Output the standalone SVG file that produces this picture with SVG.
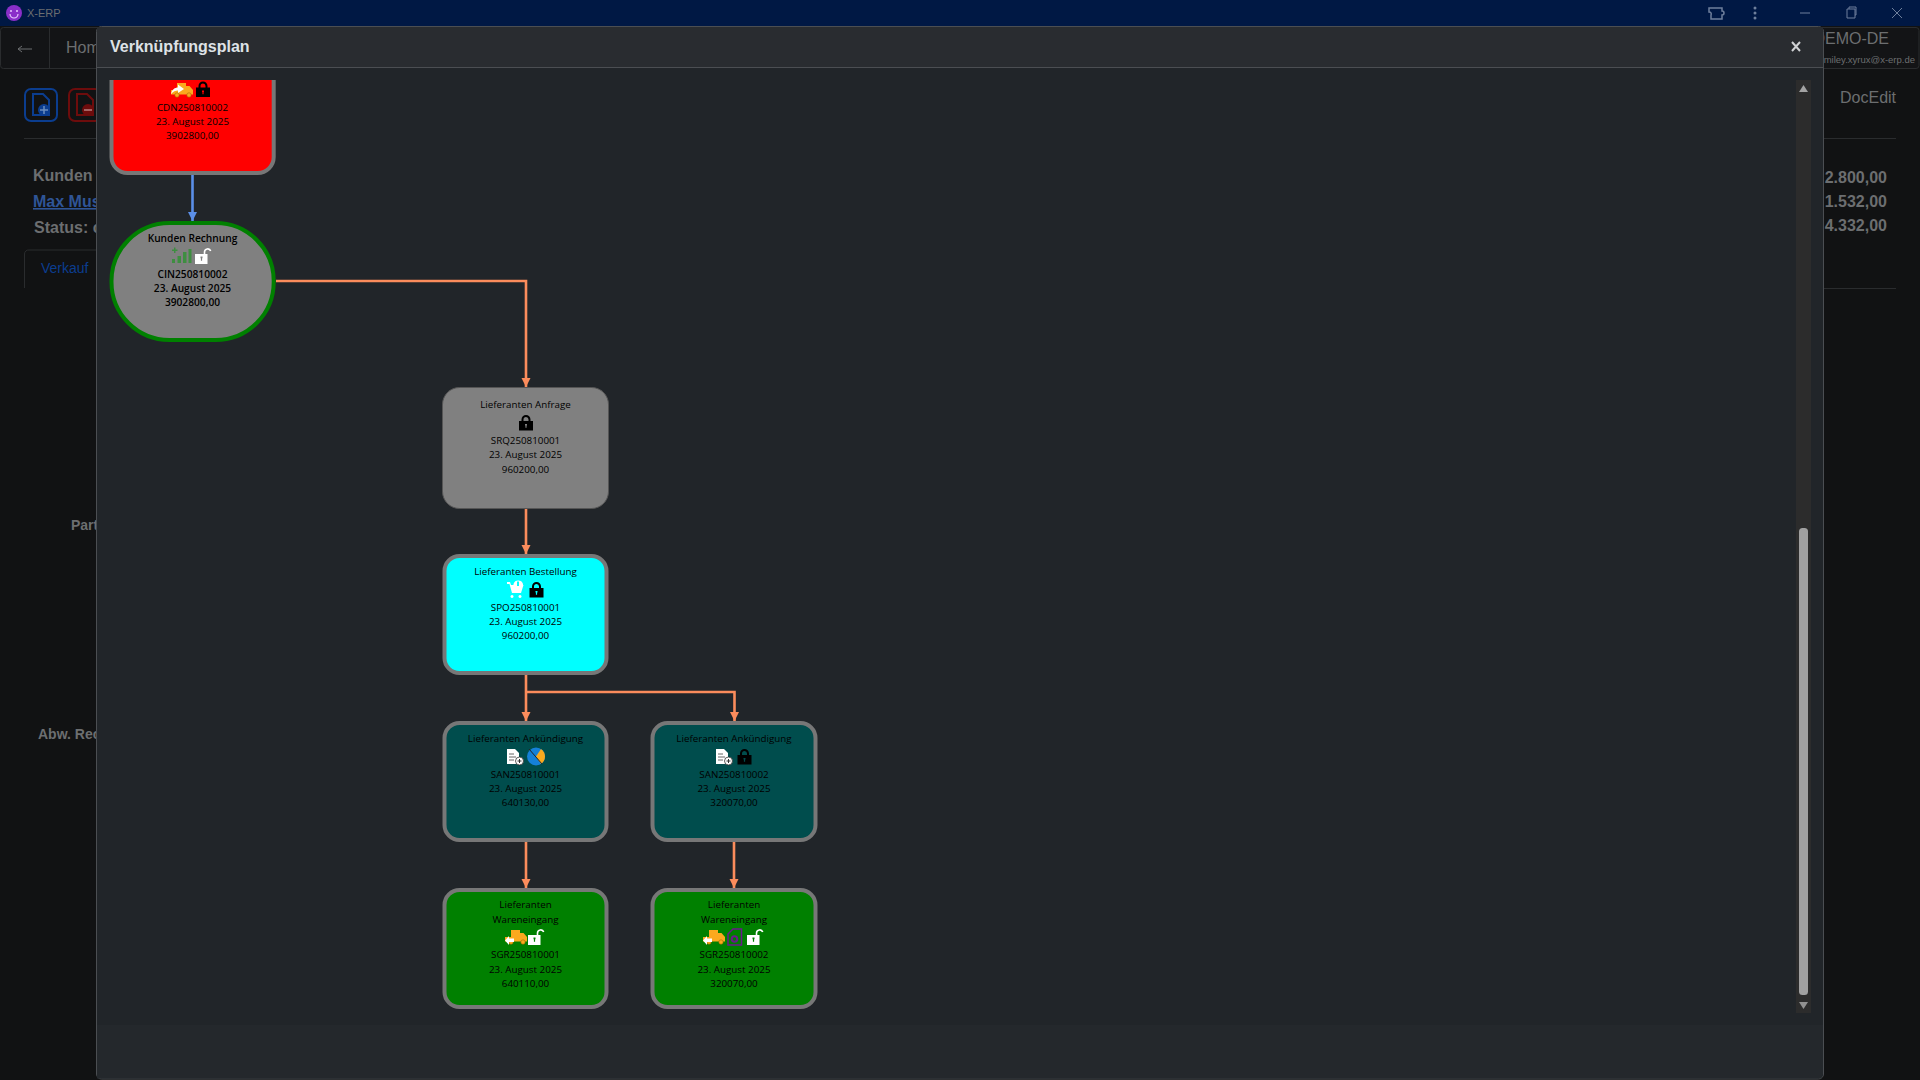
<svg xmlns="http://www.w3.org/2000/svg" width="1920" height="1080" viewBox="0 0 1920 1080">
<style>
text{font-family:"Open Sans","Noto Sans","Liberation Sans",sans-serif;font-size:9.800px;font-weight:500;fill:#000;text-anchor:middle}
.bg{font-family:"Liberation Sans",Arial,sans-serif;font-weight:400;text-anchor:start;fill:#6c6e70}
.b{font-weight:bold;font-size:16px}
.n{stroke-width:4}
.gray{stroke:#777}
.conn{fill:none;stroke:#fb8c5c;stroke-width:2.600}
.k{font-weight:600;font-size:10.200px}
</style>
<defs>
<marker id="ao" markerUnits="userSpaceOnUse" markerWidth="10" markerHeight="10" refX="9" refY="4.5" orient="auto"><path d="M0 0L9 4.5L0 9Z" fill="#fb8c5c"/></marker>
<marker id="ab" markerUnits="userSpaceOnUse" markerWidth="10" markerHeight="10" refX="9" refY="4.5" orient="auto"><path d="M0 0L9 4.5L0 9Z" fill="#5b8fe8"/></marker>
<path id="lock" fill-rule="evenodd" d="M0 6H2.500V4.500A4.500 4.500 0 0 1 11.500 4.500V6H14V15.500H0ZM4.500 6H9.500V4.500A2.500 2.500 0 0 0 4.500 4.500ZM6 9V10.500H6.400V12.800H7.600V10.500H8V9Z"/>
<g id="open"><path fill="#fff" fill-rule="evenodd" d="M0 6H12.500V16H0ZM5.500 8.500V10.200H5.900V12.800H7.100V10.200H7.500V8.500Z"/><path d="M9.500 6V4A3.200 3.200 0 0 1 15.700 3" fill="none" stroke="#fff" stroke-width="1.600"/></g>
<g id="truck"><path d="M6 0H15V3H18.500L22 7V11.500H0V7H6Z" fill="#fba91e"/><circle cx="6" cy="12" r="2.200" fill="#fba91e" stroke="#a86a00" stroke-width=".6"/><circle cx="18" cy="12" r="2.200" fill="#fba91e" stroke="#a86a00" stroke-width=".6"/></g>
<path id="arrR" fill="#fff" d="M0 10C1 5.500 4 3.500 7 3.500V0.500L13 5L7 9V6.500C4.500 6.500 2 7.500 0 10Z"/>
<path id="arrL" fill="#fff" d="M9 1V4.500H4V2L0 6.500L4 11V8H9Z"/>
<g id="doc"><path d="M0 0H8L12 4V15H0Z" fill="#fff"/><path d="M2 5H7M2 8H9M2 11H7" stroke="#666" stroke-width="1"/><circle cx="12.500" cy="12" r="4" fill="#fff" stroke="#333" stroke-width=".8"/><path d="M10.500 12H14.500M12.500 10V14" stroke="#333" stroke-width="1"/></g>
</defs>

<rect width="1920" height="1080" fill="#111213"/>
<g id="background">
<rect width="1920" height="26" fill="#001844"/>
<circle cx="14" cy="13" r="8" fill="#8a2fc9"/>
<path d="M10 14a4 4 0 0 0 8 0" fill="none" stroke="#e6c8ff" stroke-width="1.200"/><circle cx="11" cy="11" r="1" fill="#e6c8ff"/><circle cx="17" cy="11" r="1" fill="#e6c8ff"/>
<text class="bg" x="27" y="17" style="font-size:11px">X-ERP</text>
<path d="M1709 8H1722V11A2 2 0 0 1 1724 13A2 2 0 0 1 1722 15V19H1711V15A2 2 0 0 0 1709 12Z" fill="none" stroke="#6e7f9c" stroke-width="1.500"/>
<circle cx="1755" cy="8" r="1.500" fill="#6e7f9c"/><circle cx="1755" cy="13" r="1.500" fill="#6e7f9c"/><circle cx="1755" cy="18" r="1.500" fill="#6e7f9c"/>
<path d="M1800 13H1810M1847 9V18H1855V9ZM1849 9V7H1856V15H1855M1892 8L1902 18M1902 8L1892 18" fill="none" stroke="#6e7f9c"/>
<rect x="0.500" y="27.500" width="110" height="41" rx="3" fill="#131416" stroke="#2a2c2e"/>
<path d="M49.500 27V68" stroke="#2a2c2e"/>
<path d="M18 49H32M18 49L22 46M18 49L22 52" stroke="#6c6e70" fill="none"/>
<text class="bg" x="66" y="53" style="font-size:16px">Hom</text>
<rect x="1810" y="27.500" width="109" height="41" rx="3" fill="#131416" stroke="#2a2c2e"/>
<text class="bg" x="1889" y="44" style="font-size:16px;text-anchor:end">DEMO-DE</text>
<text class="bg" x="1915" y="63" style="font-size:9.500px;text-anchor:end">smiley.xyrux@x-erp.de</text>
<rect x="25" y="89" width="32" height="32" rx="6" fill="none" stroke="#0b3d8f" stroke-width="2"/>
<path d="M33 94H43L49 100V115H33Z" fill="none" stroke="#0b3d8f" stroke-width="2"/><circle cx="44" cy="110" r="6" fill="#0b3d8f"/><path d="M40 110H48M44 106V114" stroke="#6c8dbd" stroke-width="1.500"/>
<rect x="69" y="89" width="32" height="32" rx="6" fill="none" stroke="#6d0c0c" stroke-width="2"/>
<path d="M77 94H87L93 100V115H77Z" fill="none" stroke="#6d0c0c" stroke-width="2"/><circle cx="88" cy="110" r="6" fill="#6d0c0c"/><path d="M84 110H92" stroke="#b98080" stroke-width="1.500"/>
<path d="M24 138.500H110M1820 138.500H1896M1820 288.500H1896" stroke="#2a2c2e"/>
<text class="bg b" x="33" y="181">Kunden</text>
<text class="bg b" x="33" y="207" style="fill:#2f5597;text-decoration:underline">Max Mus</text>
<text class="bg b" x="34" y="233">Status: c</text>
<path d="M24.500 288V254A4 4 0 0 1 29 250H100" fill="none" stroke="#2a2c2e"/>
<text class="bg" x="41" y="273" style="font-size:14px;fill:#0b3d8f">Verkauf</text>
<text class="bg b" x="71" y="530" style="font-size:14px">Part</text>
<text class="bg b" x="38" y="739" style="font-size:14px">Abw. Rec</text>
<text class="bg" x="1840" y="103" style="font-size:16px">DocEdit</text>
<text class="bg b" x="1887" y="183" style="text-anchor:end">2.800,00</text>
<text class="bg b" x="1887" y="207" style="text-anchor:end">1.532,00</text>
<text class="bg b" x="1887" y="231" style="text-anchor:end">4.332,00</text>
</g>

<g id="modal">
<rect x="96.500" y="26.500" width="1727" height="1052.500" rx="5" fill="#212529" stroke="#4b4e52"/>
<path d="M97 27H1823V67H97Z" fill="#292c30"/>
<path d="M97 67.500H1823" stroke="#4b4e52"/>
<text x="110" y="52" style="font-family:'Liberation Sans',Arial,sans-serif;font-weight:bold;font-size:16px;text-anchor:start;fill:#dee2e6">Verknüpfungsplan</text>
<path d="M1792 42L1800 51M1800 42L1792 51" stroke="#d0d2d4" stroke-width="2"/>
<path d="M97 1025H1823V1074A4.500 4.500 0 0 1 1818.500 1078.500H97Z" fill="#24282c"/>
<rect x="1796" y="80" width="15" height="933" fill="#2c2c2c"/>
<path d="M1803.500 85L1808 92H1799Z" fill="#a3a3a3"/>
<rect x="1799" y="528" width="9" height="467" rx="3.500" fill="#a0a0a0"/>
<path d="M1803.500 1009L1808 1002H1799Z" fill="#909090"/>
</g>

<g id="connectors">
<path d="M192.500 175V221" fill="none" stroke="#5b8fe8" stroke-width="2.600" marker-end="url(#ab)"/>
<path class="conn" d="M276 281H526V387" marker-end="url(#ao)"/>
<path class="conn" d="M526 508V554" marker-end="url(#ao)"/>
<path class="conn" d="M526 675V721" marker-end="url(#ao)"/>
<path class="conn" d="M526 692H734.500V721" marker-end="url(#ao)"/>
<path class="conn" d="M526 842V888" marker-end="url(#ao)"/>
<path class="conn" d="M734 842V888" marker-end="url(#ao)"/>
</g>

<g id="node-cdn">
<path class="n gray" fill="#f00" d="M111.500 76V157A16 16 0 0 0 127.500 173H257.700A16 16 0 0 0 273.700 157V76"/>
<rect x="105" y="70" width="175" height="10" fill="#212529"/>
<use href="#truck" x="171" y="83"/><use href="#arrR" x="171" y="84"/>
<use href="#lock" x="196" y="81.500"/>
<text x="192.500" y="111">CDN250810002</text><text x="192.500" y="125">23. August 2025</text><text x="192.500" y="139">3902800,00</text>
</g>

<g id="node-cin">
<rect class="n" x="111.500" y="223" width="162.200" height="117" rx="58" fill="#808080" stroke="#008000"/>
<text class="k" x="192.500" y="242">Kunden Rechnung</text>
<path fill="#3e8e41" d="M172 259h3v4h-3zM177.500 256h3.500v7h-3.500zM183 252h3.500v11H183zM188.500 249h3v14h-3zM174 247.500h1.500v2h2v1.500h-2v2H174v-2h-2v-1.500h2z"/>
<use href="#open" x="195" y="248"/>
<text class="k" x="192.500" y="278">CIN250810002</text><text class="k" x="192.500" y="292">23. August 2025</text><text class="k" x="192.500" y="306">3902800,00</text>
</g>

<g id="node-srq">
<rect x="442.500" y="387.500" width="166" height="121" rx="17" fill="#808080" stroke="#555" stroke-width="1"/>
<text x="525.500" y="408">Lieferanten Anfrage</text>
<use href="#lock" x="519" y="415"/>
<text x="525.500" y="444">SRQ250810001</text><text x="525.500" y="458">23. August 2025</text><text x="525.500" y="473">960200,00</text>
</g>

<g id="node-spo">
<rect class="n gray" x="444.500" y="556" width="162" height="117" rx="15" fill="#0ff"/>
<text x="525.500" y="575">Lieferanten Bestellung</text>
<path fill="#fff" fill-rule="evenodd" d="M507 582H510L511 585H513.500A5 5 0 0 1 513.500 584A5 5 0 0 1 523 584V585H523.500L521 593H512L509.500 584H507ZM517 581.500V586H519V581.500ZM512 595a1.500 1.500 0 1 0 .01 0ZM520 595a1.500 1.500 0 1 0 .01 0Z"/>
<use href="#lock" x="529.500" y="582"/>
<text x="525.500" y="611">SPO250810001</text><text x="525.500" y="625">23. August 2025</text><text x="525.500" y="639">960200,00</text>
</g>

<g id="node-san1">
<rect class="n gray" x="444.500" y="723" width="162" height="117" rx="15" fill="#004d4d"/>
<text x="525.500" y="742">Lieferanten Ankündigung</text>
<use href="#doc" x="507" y="749"/>
<circle cx="536" cy="756.500" r="9" fill="#1580d8"/>
<path d="M536 756.500L541 749A9 9 0 0 1 541 764Z" fill="#fba91e"/>
<path d="M529 749L542 764" stroke="#212529" stroke-width="1"/>
<text x="525.500" y="778">SAN250810001</text><text x="525.500" y="792">23. August 2025</text><text x="525.500" y="806">640130,00</text>
</g>

<g id="node-san2">
<rect class="n gray" x="652.500" y="723" width="163" height="117" rx="15" fill="#004d4d"/>
<text x="734" y="742">Lieferanten Ankündigung</text>
<use href="#doc" x="716" y="749"/>
<use href="#lock" x="737.500" y="749"/>
<text x="734" y="778">SAN250810002</text><text x="734" y="792">23. August 2025</text><text x="734" y="806">320070,00</text>
</g>

<g id="node-sgr1">
<rect class="n gray" x="444.500" y="890" width="162" height="117" rx="15" fill="#008000"/>
<text x="525.500" y="908">Lieferanten</text><text x="525.500" y="923">Wareneingang</text>
<use href="#truck" x="505" y="930"/><use href="#arrL" x="505" y="934"/>
<use href="#open" x="528" y="929"/>
<text x="525.500" y="958">SGR250810001</text><text x="525.500" y="973">23. August 2025</text><text x="525.500" y="987">640110,00</text>
</g>

<g id="node-sgr2">
<rect class="n gray" x="652.500" y="890" width="163" height="117" rx="15" fill="#008000"/>
<text x="734" y="908">Lieferanten</text><text x="734" y="923">Wareneingang</text>
<use href="#truck" x="703" y="930"/><use href="#arrL" x="703" y="934"/>
<path d="M733 929H741.500V945H728V934Z" fill="none" stroke="#6a1a8a" stroke-width="1.500"/>
<circle cx="734.500" cy="939" r="2.800" fill="none" stroke="#6a1a8a" stroke-width="2"/>
<use href="#open" x="747" y="929"/>
<text x="734" y="958">SGR250810002</text><text x="734" y="973">23. August 2025</text><text x="734" y="987">320070,00</text>
</g>
</svg>
